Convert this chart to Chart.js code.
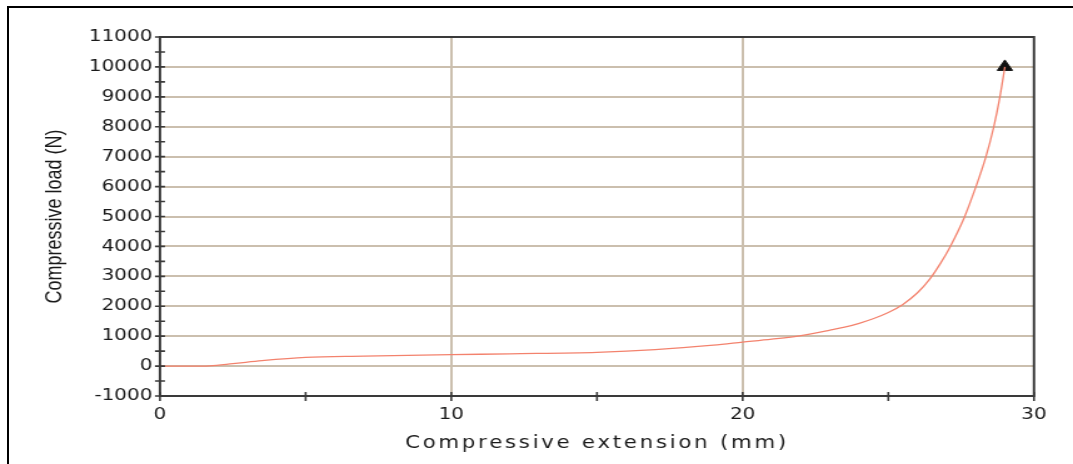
<!DOCTYPE html>
<html>
<head>
<meta charset="utf-8">
<script src="https://cdn.jsdelivr.net/npm/chart.js@4"></script>
<style>
  html, body { margin: 0; padding: 0; background: #fff; }
  body { width: 1073px; height: 464px; overflow: hidden; position: relative; }
  .frame { position: absolute; left: 7px; top: 6px; right: -10px; bottom: -10px;
           border-top: 2px solid #000; border-left: 2px solid #000; }
  .wrap { position: absolute; left: 0; top: 0; width: 858px; height: 464px;
          transform: scaleX(1.2506); transform-origin: 0 0; }
</style>
</head>
<body>
<div class="frame"></div>
<div class="wrap"><canvas id="myChart" width="858" height="464"></canvas></div>
<script>
// extension (mm) and load (N)
const extension = [0, 1, 1.7, 2.5, 3.5, 5, 7, 10, 12, 15, 17, 19, 20, 21, 22, 23, 23.5, 24, 24.5, 25, 25.5, 26, 26.4, 26.8, 27.1, 27.6, 28.0, 28.35, 28.62, 28.83, 29.0];
const load = [0, 0, 10, 80, 180, 290, 330, 380, 410, 460, 550, 700, 800, 900, 1020, 1200, 1300, 1430, 1590, 1790, 2060, 2450, 2880, 3450, 3950, 4950, 5980, 7000, 8000, 9000, 10000];
const breakPoint = { x: 29.0, y: 10000 };

const xTitle = 'Compressive extension (mm)';
const yTitle = 'Compressive load (N)';
const xRange = [0, 30];
const yRange = [-1000, 11000];

const gridColor = '#cbbfae';
const axisColor = '#3a3a3a';

// plot frame + ticks crossing the axes (every half step)
const frameTicks = {
  id: 'frameTicks',
  afterUpdate(chart) {
    const sx = chart.scales.x;
    if (sx && !sx._spaced) {
      const orig = sx.drawTitle;
      sx.drawTitle = function () {
        this.ctx.save();
        this.ctx.letterSpacing = '2.2px';
        orig.call(this);
        this.ctx.restore();
      };
      sx._spaced = true;
    }
  },
  afterDraw(chart) {
    const { ctx, chartArea: a, scales } = chart;
    ctx.save();
    ctx.strokeStyle = axisColor;
    ctx.lineWidth = 2;
    ctx.strokeRect(a.left, a.top, a.right - a.left, a.bottom - a.top);
    ctx.lineWidth = 1.6;
    ctx.beginPath();
    for (let v = yRange[0]; v <= yRange[1]; v += 500) {
      const y = scales.y.getPixelForValue(v);
      ctx.moveTo(a.left - 4, y);
      ctx.lineTo(a.left + 4, y);
    }
    for (let v = xRange[0]; v <= xRange[1]; v += 5) {
      const x = scales.x.getPixelForValue(v);
      ctx.moveTo(x, a.bottom - 4);
      ctx.lineTo(x, a.bottom + 5);
    }
    ctx.stroke();
    ctx.restore();
  }
};

const ctx = document.getElementById('myChart').getContext('2d');
new Chart(ctx, {
  type: 'scatter',
  data: {
    datasets: [
      {
        data: extension.map((x, i) => ({ x: x, y: load[i] })),
        showLine: true,
        borderColor: '#f3826d',
        borderWidth: 1.3,
        pointRadius: 0,
        cubicInterpolationMode: 'monotone',
        fill: false
      },
      {
        data: [breakPoint],
        pointStyle: 'triangle',
        pointRadius: 7,
        pointBackgroundColor: '#111',
        pointBorderColor: '#111',
        borderWidth: 1
      }
    ]
  },
  options: {
    responsive: false,
    animation: false,
    devicePixelRatio: 1,
    layout: { padding: { left: 0, right: 31.2, top: 37, bottom: 0 } },
    plugins: { legend: { display: false }, tooltip: { enabled: false } },
    scales: {
      x: {
        type: 'linear',
        min: xRange[0],
        max: xRange[1],
        afterFit: (s) => { s.height = 68; },
        ticks: {
          stepSize: 10,
          padding: 9,
          color: '#1a1a1a',
          font: { family: 'DejaVu Sans', size: 16 },
          maxRotation: 0
        },
        grid: {
          drawTicks: false,
          lineWidth: 2,
          color: (c) => (c.tick && c.tick.value > xRange[0] && c.tick.value < xRange[1]) ? gridColor : 'rgba(0,0,0,0)'
        },
        border: { display: false },
        title: {
          display: true,
          text: xTitle,
          color: '#1a1a1a',
          font: { family: 'DejaVu Sans', size: 17 },
          padding: { top: 0, bottom: 10 }
        }
      },
      y: {
        type: 'linear',
        min: yRange[0],
        max: yRange[1],
        afterFit: (s) => { s.width = 127.9; },
        ticks: {
          stepSize: 1000,
          padding: 6,
          color: '#1a1a1a',
          font: { family: 'DejaVu Sans', size: 16 },
          callback: (v) => String(v)
        },
        grid: {
          drawTicks: false,
          lineWidth: 2,
          color: (c) => (c.tick && c.tick.value > yRange[0] && c.tick.value < yRange[1]) ? gridColor : 'rgba(0,0,0,0)'
        },
        border: { display: false },
        title: {
          display: true,
          text: yTitle,
          color: '#1a1a1a',
          font: { family: 'Liberation Sans', size: 18 },
          padding: { top: 33, bottom: 0 }
        }
      }
    }
  },
  plugins: [frameTicks]
});
</script>
</body>
</html>
